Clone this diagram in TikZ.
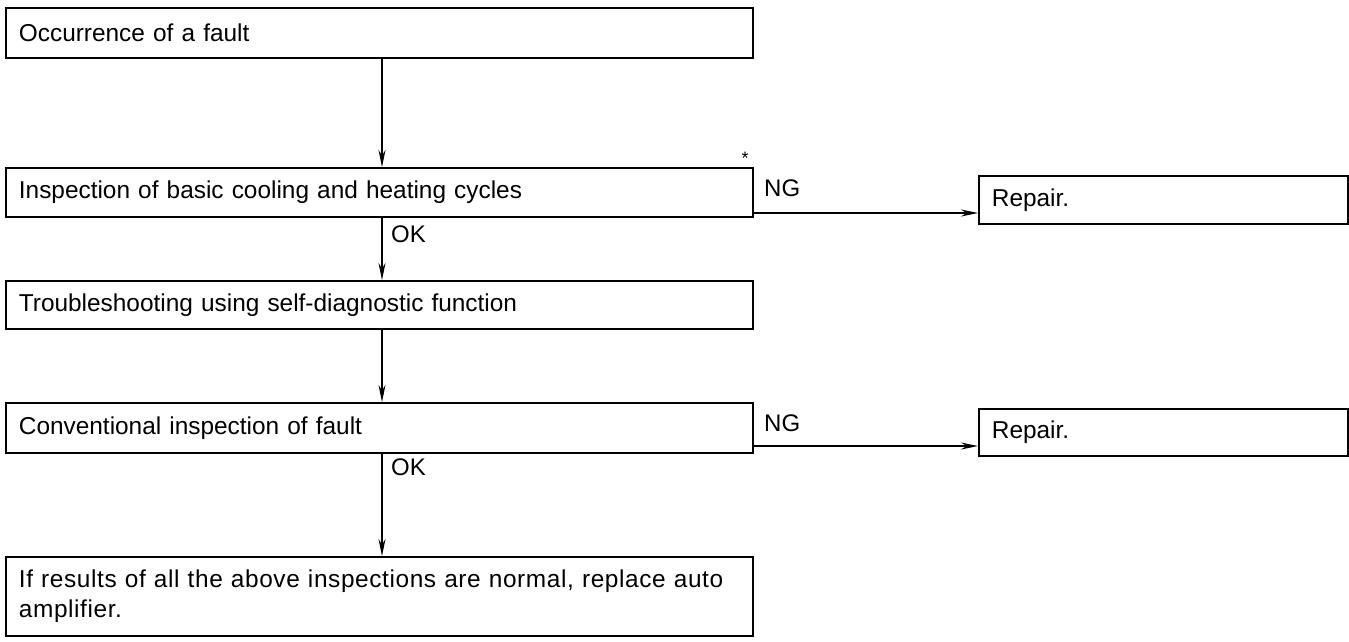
\documentclass[tikz,border=0pt]{standalone}
\usepackage{fontspec}
\setmainfont{Liberation Sans}
\usetikzlibrary{arrows.meta}
\begin{document}
\begin{tikzpicture}[x=1pt,y=-1pt,
  box/.style={draw, line width=1.8pt, anchor=north west, inner xsep=13pt, align=left,
    font=\fontsize{24.4}{27}\selectfont},
  lbl/.style={font=\fontsize{24}{26}\selectfont, inner sep=0pt},
  arr/.style={line width=1.6pt, -{Stealth[length=17pt,width=7pt]}}]
\useasboundingbox (0,0) rectangle (1349,641);
% main boxes
\node[box, minimum width=747pt, minimum height=50pt, text width=721pt] (b1) at (5,7) {Occurrence of a fault};
\node[box, minimum width=747pt, minimum height=49pt, text width=721pt] (b2) at (5,167) {Inspection of basic cooling and heating cycles};
\node[box, minimum width=747pt, minimum height=48pt, text width=721pt] (b3) at (5,280) {Troubleshooting using self-diagnostic function};
\node[box, minimum width=747pt, minimum height=50pt, text width=721pt] (b4) at (5,402) {Conventional inspection of fault};
\node[box, minimum width=747pt, minimum height=79pt, text width=721pt,
  font=\fontsize{24.4}{30}\selectfont] (b5) at (5,556) {\addfontfeature{LetterSpace=2.5}If results of all the above inspections are normal, replace auto\\amplifier.};
% repair boxes
\node[box, minimum width=369pt, minimum height=48pt, text width=343pt] (r1) at (978,175) {Repair.};
\node[box, minimum width=369pt, minimum height=47pt, text width=343pt] (r2) at (978,408) {Repair.};
% vertical connectors
\coordinate (c1) at (382,57);
\draw[arr] (c1) -- (c1 |- b2.north);
\draw[arr] (c1 |- b2.south) -- (c1 |- b3.north);
\draw[arr] (c1 |- b3.south) -- (c1 |- b4.north);
\draw[arr] (c1 |- b4.south) -- (c1 |- b5.north);
% NG connectors
\coordinate (n1) at (752,213);
\coordinate (n2) at (752,446);
\draw[arr] (n1) -- (n1 -| r1.west);
\draw[arr] (n2) -- (n2 -| r2.west);
% labels
\node[lbl, anchor=west] (ng1) at (764,188) {NG};
\node[lbl, anchor=west] (ng2) at (764,423) {NG};
\node[lbl, anchor=west] (ok1) at (391,234) {OK};
\node[lbl, anchor=west] (ok2) at (391,467) {OK};
\node[font=\fontsize{18}{18}\selectfont, inner sep=0pt] (ast) at (745,158) {*};
\end{tikzpicture}
\end{document}
